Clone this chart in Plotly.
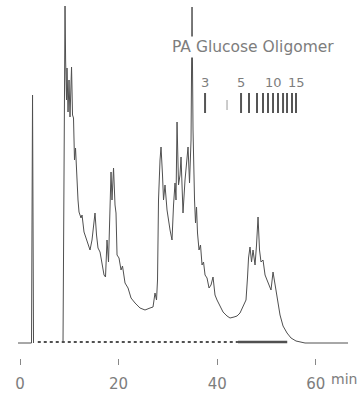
import plotly.graph_objects as go

# Chromatogram: retention time (min) and detector response (arbitrary units)
time_min = [-0.41, 2.03, 2.33, 2.54, 2.74, None,
            8.72, 9.03, 9.13, 9.25, 9.43, 9.53, 9.74, 9.94, 10.14, 10.45, 10.65, 10.85,
            11.05, 11.26, 11.56, 11.76, 11.97, 12.37, 12.58, 12.98, 13.39, 13.79, 14.20,
            14.60, 15.01, 15.21, 15.52, 15.82, 16.23, 16.63, 17.04, 17.34, 17.65, 17.95,
            18.26, 18.46, 18.66, 18.97, 19.27, 19.47, 19.68, 20.08, 20.49, 20.79, 21.30,
            21.91, 22.52, 23.33, 24.34, 25.35, 26.37, 26.98, 27.38, 27.69, 27.89, 28.09,
            28.40, 28.60, 28.90, 29.11, 29.41, 29.82, 30.43, 30.83, 31.14, 31.44, 31.64,
            31.85, 32.15, 32.45, 32.66, 32.86, 33.06, 33.47, 33.77, 34.08, 34.38, 34.69,
            34.89, 35.09, 35.40, 35.60, 35.80, 36.00, 36.31, 36.61, 36.92, 37.22, 37.53,
            37.93, 38.34, 38.74, 39.15, 39.55, 39.96, 40.57, 41.18, 41.99, 42.60, 43.41,
            44.02, 44.62, 45.23, 45.84, 46.15, 46.35, 46.65, 46.96, 47.26, 47.67, 47.97,
            48.28, 48.58, 48.88, 49.29, 49.70, 50.10, 50.51, 50.91, 51.32, 51.72, 52.13,
            52.74, 53.35, 54.16, 54.97, 55.98, 57.81, 64.91, 66.53]
signal = [0, 0, 0, 248, 0, None,
          0, 243, 337, 283, 243, 275, 231, 263, 226, 276, 228, 225,
          183, 195, 158, 143, 131, 125, 128, 111, 105, 98, 93,
          103, 121, 130, 108, 95, 91, 78, 68, 66, 103, 81,
          153, 171, 143, 175, 138, 130, 88, 85, 73, 77, 60,
          55, 45, 40, 35, 33, 35, 36, 50, 43, 63, 143,
          183, 196, 168, 143, 158, 133, 113, 103, 138, 160, 143,
          221, 158, 168, 186, 153, 130, 163, 183, 196, 160, 203,
          336, 213, 143, 120, 136, 110, 93, 98, 78, 81, 68,
          65, 55, 58, 66, 48, 43, 37, 31, 27, 25, 26,
          27, 30, 36, 43, 66, 85, 96, 81, 93, 78, 98,
          126, 93, 81, 83, 68, 63, 58, 53, 71, 58, 43,
          28, 17, 10, 5, 2, 0, 0, 0]

# Reference baseline (dotted part, then solid part)
base_dot_t = [3.6, 44.2]
base_solid_t = [44.2, 54.2]
base_level = [1, 1]

# Inset: PA glucose oligomer ladder (positions on the time axis)
ladder_dp = [3, 4, 5, 6, 7, 8, 9, 10, 11, 12, 13, 14, 15]
ladder_t = [37.53, 41.99, 44.83, 46.45, 48.07, 49.29, 50.30, 51.32, 52.33, 53.35, 54.16, 55.17, 55.98]
ladder_labels = {3: "3", 5: "5", 10: "10", 15: "15"}
ladder_low, ladder_high = 230, 250
ladder_label_y = 261
inset_title = "PA Glucose Oligomer"
inset_title_pos = (47.3, 296)

x_ticks = [0, 20, 40, 60]

LINE = "#505050"
TEXT = "#7d7d7d"

fig = go.Figure()

fig.add_trace(go.Scatter(x=base_dot_t, y=base_level, mode="lines",
                         line=dict(color=LINE, width=2, dash="3px,3px"),
                         hoverinfo="skip", showlegend=False))
fig.add_trace(go.Scatter(x=base_solid_t, y=base_level, mode="lines",
                         line=dict(color=LINE, width=2.5),
                         hoverinfo="skip", showlegend=False))
fig.add_trace(go.Scatter(x=time_min, y=signal, mode="lines",
                         line=dict(color=LINE, width=1), connectgaps=False,
                         hoverinfo="skip", showlegend=False))

# ladder bars
bx, by = [], []
fx, fy = [], []
for dp, t in zip(ladder_dp, ladder_t):
    if dp == 4:
        fx += [t, t, None]
        fy += [ladder_low + 3, ladder_high - 7, None]
    else:
        bx += [t, t, None]
        by += [ladder_low, ladder_high, None]
fig.add_trace(go.Scatter(x=bx, y=by, mode="lines", line=dict(color="#555555", width=2),
                         hoverinfo="skip", showlegend=False))
fig.add_trace(go.Scatter(x=fx, y=fy, mode="lines", line=dict(color="#bbbbbb", width=1.5),
                         hoverinfo="skip", showlegend=False))

annotations = [
    dict(x=inset_title_pos[0], y=inset_title_pos[1], xref="x", yref="y",
         text=inset_title, showarrow=False, bgcolor="white",
         font=dict(family="DejaVu Sans", size=15.5, color=TEXT)),
    dict(x=1.0, y=-0.03, xref="paper", yref="paper", text="min", showarrow=False,
         xanchor="right", yanchor="top", xshift=-1,
         font=dict(family="DejaVu Sans", size=14, color=TEXT)),
]
for dp, t in zip(ladder_dp, ladder_t):
    if dp in ladder_labels:
        annotations.append(dict(x=t, y=ladder_label_y, xref="x", yref="y",
                                text=ladder_labels[dp], showarrow=False,
                                font=dict(family="DejaVu Sans", size=13, color=TEXT)))

fig.update_layout(
    width=360, height=396,
    margin=dict(l=0, r=0, t=0, b=38),
    paper_bgcolor="white", plot_bgcolor="white",
    annotations=annotations,
    xaxis=dict(range=[-4.06, 68.96], showgrid=False, zeroline=False, showline=False,
               tickmode="array", tickvals=x_ticks, ticktext=[str(v) for v in x_ticks],
               ticks="outside", ticklen=6, tickwidth=1, tickcolor="#888888",
               ticklabelstandoff=6,
               tickfont=dict(family="DejaVu Sans", size=15, color=TEXT)),
    yaxis=dict(range=[-15, 343], visible=False),
)

fig.write_html("out.html")
